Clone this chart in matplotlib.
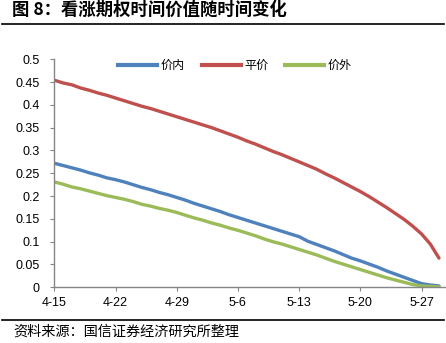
import numpy as np
import matplotlib.pyplot as plt
from matplotlib.lines import Line2D

plt.rcParams['font.family'] = ['Liberation Sans', 'Noto Sans CJK SC', 'DejaVu Sans']
cjk = ['Noto Sans CJK SC', 'DejaVu Sans']

# 4-15 .. 5-29, one value per day
in_money = [0.272, 0.267, 0.262, 0.257, 0.251, 0.246, 0.240, 0.236, 0.231, 0.225,
            0.219, 0.214, 0.208, 0.203, 0.197, 0.191, 0.184, 0.178, 0.172, 0.166,
            0.159, 0.153, 0.147, 0.141, 0.135, 0.129, 0.123, 0.117, 0.111, 0.101,
            0.094, 0.087, 0.080, 0.072, 0.064, 0.058, 0.051, 0.044, 0.036, 0.029,
            0.022, 0.015, 0.008, 0.005, 0.003]
at_money = [0.454, 0.448, 0.444, 0.437, 0.432, 0.426, 0.421, 0.415, 0.409, 0.403,
            0.397, 0.392, 0.386, 0.380, 0.374, 0.368, 0.362, 0.356, 0.350, 0.343,
            0.336, 0.329, 0.321, 0.314, 0.306, 0.298, 0.291, 0.283, 0.275, 0.267,
            0.259, 0.249, 0.240, 0.230, 0.220, 0.210, 0.199, 0.187, 0.175, 0.162,
            0.149, 0.134, 0.117, 0.095, 0.064]
out_money = [0.231, 0.226, 0.220, 0.216, 0.211, 0.206, 0.201, 0.197, 0.193, 0.188,
             0.182, 0.178, 0.173, 0.169, 0.164, 0.158, 0.152, 0.147, 0.141, 0.136,
             0.130, 0.125, 0.119, 0.113, 0.106, 0.100, 0.095, 0.089, 0.083, 0.077,
             0.071, 0.064, 0.057, 0.051, 0.045, 0.039, 0.033, 0.027, 0.021, 0.016,
             0.011, 0.006, 0.003, 0.002, 0.001]
series_names = ['价内', '平价', '价外']
tick_labels = ['4-15', '4-22', '4-29', '5-6', '5-13', '5-20', '5-27']
y_ticks = [0, 0.05, 0.1, 0.15, 0.2, 0.25, 0.3, 0.35, 0.4, 0.45, 0.5]

colors = ['#4F81BD', '#C0504D', '#9BBB59']

fig = plt.figure(figsize=(4.46, 3.43), dpi=100)
ax = fig.add_axes([0.12, 0.1624, 0.878, 0.6648])

days = np.arange(len(at_money))
for vals, c in zip([in_money, at_money, out_money], colors):
    ax.plot(days, vals, color=c, lw=2.4, solid_capstyle='round')

ax.set_xlim(-0.1, 44.7)
ax.set_ylim(0, 0.5)
ax.set_xticks(np.arange(len(tick_labels)) * 7)
ax.set_xticklabels(tick_labels)
ax.set_yticks(y_ticks)
ax.set_yticklabels([f'{v:g}' for v in y_ticks])
for s in ['top', 'right']:
    ax.spines[s].set_visible(False)
for s in ['left', 'bottom']:
    ax.spines[s].set_color('#868686')
    ax.spines[s].set_linewidth(1.0)
ax.tick_params(axis='both', direction='out', length=3, color='#868686',
               labelsize=9, colors='black')
ax.tick_params(axis='y', pad=7)
ax.tick_params(axis='x', pad=4)

handles = [Line2D([0], [0], color=c, lw=3) for c in colors]
leg = ax.legend(handles, series_names, loc='upper center', bbox_to_anchor=(0.464, 1.05),
                ncol=3, frameon=False, handlelength=3.2, handletextpad=0.3,
                columnspacing=1.4, prop={'family': cjk, 'size': 8.7})

fig.text(0.028, 0.972, '图 8：看涨期权时间价值随时间变化', family=cjk, fontsize=12.5,
         fontweight='bold', va='center', ha='left')
fig.add_artist(Line2D([0.005, 0.995], [0.930, 0.930], color='black', lw=1.2))
fig.add_artist(Line2D([0.005, 0.995], [0.067, 0.067], color='black', lw=1.2))
fig.text(0.029, 0.032, '资料来源：国信证券经济研究所整理', family=cjk, fontsize=10.2,
         va='center', ha='left')

fig.savefig('out.png', dpi=100)
